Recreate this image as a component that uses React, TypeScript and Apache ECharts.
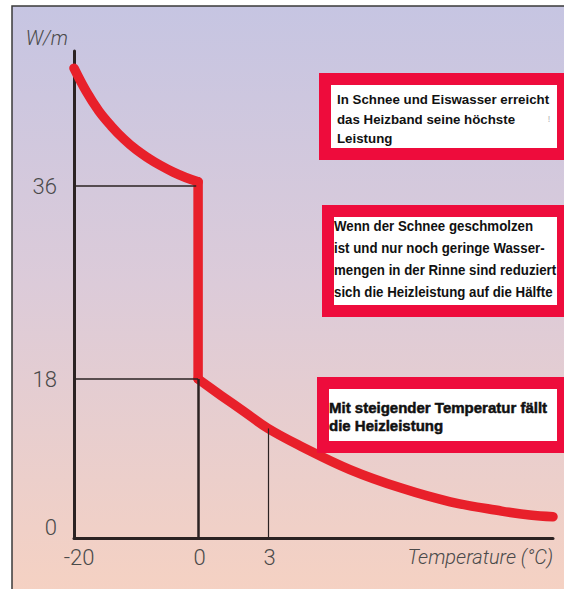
import React, { useEffect, useRef } from "react";
import * as echarts from "echarts";

// ---- data ----
const coldTemps = [-20, -18, -16, -14, -12, -10, -8, -6, -4, -2, 0];
const coldWatts = [47, 44.8, 43.0, 41.6, 40.4, 39.4, 38.6, 37.9, 37.3, 36.8, 36.4];
const warmTemps = [0, 1, 2, 3, 4.4, 6.5, 8.7, 10.8, 13, 14.2, 15.2];
const warmWatts = [18, 16.1, 14.25, 12.4, 10.4, 7.75, 5.65, 4.1, 3.05, 2.6, 2.4];
const xTicks = [-20, 0, 3];
const yTicks = [0, 18, 36];
const fullPower = 36;
const halfPower = 18;
const markTemp = 3;
const markWatt = 12.4;
const xEnd = 15.2;
const yEnd = 48.6;

const box1Lines = ["In Schnee und Eiswasser erreicht", "das Heizband seine höchste", "Leistung"];
const box2Lines = [
  "Wenn der Schnee geschmolzen",
  "ist und nur noch geringe Wasser-",
  "mengen in der Rinne sind reduziert",
  "sich die Heizleistung auf die Hälfte",
];
const box3Lines = ["Mit steigender Temperatur fällt", "die Heizleistung"];

// ---- schematic (piecewise) scales of the drawing ----
const WARM_STRETCH = 3.763; // warm side drawn wider per °C
const LOW_SQUEEZE = 0.824; // below 18 W/m drawn tighter
const xi = (t: number) => (t <= 0 ? t : t * WARM_STRETCH);
const yi = (w: number) => (w <= 18 ? w * LOW_SQUEEZE : 18 * LOW_SQUEEZE + (w - 18));
const xInv = (v: number) => (v <= 0 ? v : v / WARM_STRETCH);
const yInv = (v: number) => (v <= 18 * LOW_SQUEEZE ? v / LOW_SQUEEZE : v - 18 * LOW_SQUEEZE + 18);

const RED = "#e8202a";
const BOX_RED = "#ee0c3c";
const INK = "#2b2222";
const LABEL = "#4a4a4a";
const NUM_FONT = "Roboto, 'Liberation Sans', sans-serif";

function box(
  x: number, y: number, h: number, lines: string[], tx: number, ys: number[],
  font: string, scaleX: number, strokeW: number
) {
  const innerRight = 557;
  const children: any[] = [
    { type: "rect", shape: { x, y, width: 620 - x, height: h }, style: { fill: BOX_RED }, z: 100 },
    { type: "rect", shape: { x: x + 12, y: y + 12, width: innerRight - x - 12, height: h - 24 }, style: { fill: "#ffffff" }, z: 101 },
  ];
  lines.forEach((t, i) => {
    children.push({
      type: "text",
      x: tx,
      y: ys[i],
      scaleX,
      z: 102,
      style: {
        text: t, fill: "#111", font, textAlign: "left", textVerticalAlign: "middle",
        stroke: strokeW > 0 ? "#111" : undefined, lineWidth: strokeW,
      },
    });
  });
  return children;
}

export default function App() {
  const ref = useRef<HTMLDivElement>(null);
  useEffect(() => {
    if (!ref.current) return;
    const chart = echarts.init(ref.current, undefined, { renderer: "svg" });
    const cold = coldTemps.map((t, i) => [xi(t), yi(coldWatts[i])]);
    const warm = warmTemps.map((t, i) => [xi(t), yi(warmWatts[i])]);
    const drop = [cold[cold.length - 1], warm[0]];

    const refLine = (a: number[], b: number[], width: number) => [
      { coord: [xi(a[0]), yi(a[1])], lineStyle: { color: INK, width, type: "solid" } },
      { coord: [xi(b[0]), yi(b[1])] },
    ];

    const curveStyle = { color: RED, width: 9.5, cap: "round", join: "round" };

    const option: any = {
      animation: false,
      grid: { left: 74, right: 11, top: 51, bottom: 51, containLabel: false },
      xAxis: {
        type: "value",
        min: xi(-20),
        max: xi(xEnd),
        axisLine: { show: true, onZero: false, lineStyle: { color: INK, width: 3 } },
        axisTick: { show: false },
        splitLine: { show: false },
        axisLabel: {
          customValues: xTicks.map(xi),
          margin: 8,
          color: LABEL,
          fontSize: 22,
          fontFamily: NUM_FONT,
          fontWeight: 300,
          formatter: (v: number) => {
            const t = Math.round(xInv(v));
            return t < 0 ? "{n|" + t + "}" : "{p|" + t + "}";
          },
          rich: {
            n: { color: LABEL, fontSize: 22, fontFamily: NUM_FONT, fontWeight: 300, padding: [0, 0, 0, 10] },
            p: { color: LABEL, fontSize: 22, fontFamily: NUM_FONT, fontWeight: 300, padding: [0, 0, 0, 3] },
          },
        },
      },
      yAxis: {
        type: "value",
        min: 0,
        max: yi(yEnd),
        name: "W/m",
        nameLocation: "end",
        nameGap: 13,
        nameTextStyle: {
          color: LABEL,
          fontSize: 20,
          fontStyle: "italic",
          fontWeight: 300,
          fontFamily: NUM_FONT,
          align: "right",
          verticalAlign: "middle",
          padding: [0, 6, 0, 0],
        },
        axisLine: { show: true, onZero: false, lineStyle: { color: INK, width: 3 } },
        axisTick: { show: false },
        splitLine: { show: false },
        axisLabel: {
          customValues: yTicks.map(yi),
          margin: 17,
          color: LABEL,
          fontSize: 22,
          fontFamily: NUM_FONT,
          fontWeight: 300,
          formatter: (v: number) => {
            const w = Math.round(yInv(v));
            return w === 0 ? "{z|0}" : String(w);
          },
          rich: {
            z: { color: LABEL, fontSize: 22, fontFamily: NUM_FONT, fontWeight: 300, padding: [0, 0, 22, 0] },
          },
        },
      },
      series: [
        {
          type: "line",
          data: [],
          z: 1,
          markLine: {
            silent: true,
            symbol: "none",
            label: { show: false },
            data: [
              refLine([-20, fullPower], [-0.3, fullPower], 1.5),
              refLine([-20, halfPower], [0, halfPower], 1.5),
              refLine([0, 0], [0, halfPower], 2.5),
              refLine([markTemp, 0], [markTemp, markWatt], 1.2),
            ],
          },
        },
        { type: "line", data: cold, z: 3, symbol: "none", smooth: 0.4, lineStyle: curveStyle },
        { type: "line", data: drop, z: 3, symbol: "none", smooth: false, lineStyle: curveStyle },
        { type: "line", data: warm, z: 3, symbol: "none", smooth: 0.4, lineStyle: curveStyle },
      ],
      graphic: [
        {
          type: "rect",
          z: -10,
          shape: { x: 12, y: 6, width: 600, height: 620 },
          style: {
            fill: new echarts.graphic.LinearGradient(0, 0, 0, 1, [
              { offset: 0, color: "#c6c5e2" },
              { offset: 0.45, color: "#dccbd9" },
              { offset: 1, color: "#f8d2c0" },
            ]),
            stroke: "#3a3a3a",
            lineWidth: 1.5,
          },
        },
        ...box(319, 73, 87, box1Lines, 337, [99, 119, 138], "bold 13.3px 'Liberation Sans', Arial, sans-serif", 1, 0),
        {
          type: "text",
          x: 549,
          y: 119,
          z: 103,
          style: { text: "!", fill: "#b0b0b0", font: "9px 'Liberation Sans', sans-serif", textAlign: "center", textVerticalAlign: "middle" },
        },
        ...box(322, 205, 112, box2Lines, 334, [226, 248, 270, 292], "bold 14px 'Liberation Sans', Arial, sans-serif", 0.95, 0),
        ...box(317, 377, 76, box3Lines, 329, [407, 425], "bold 15px 'Liberation Sans', Arial, sans-serif", 1, 0.5),
        {
          type: "text",
          x: 553,
          y: 557,
          z: 5,
          style: {
            text: "Temperature (°C)",
            fill: LABEL,
            font: "italic 300 20px " + NUM_FONT,
            textAlign: "right",
            textVerticalAlign: "middle",
          },
        },
      ],
    };
    chart.setOption(option);
    return () => chart.dispose();
  }, []);
  return <div ref={ref} style={{ position: "absolute", left: 0, top: 0, width: 564, height: 589 }} />;
}
